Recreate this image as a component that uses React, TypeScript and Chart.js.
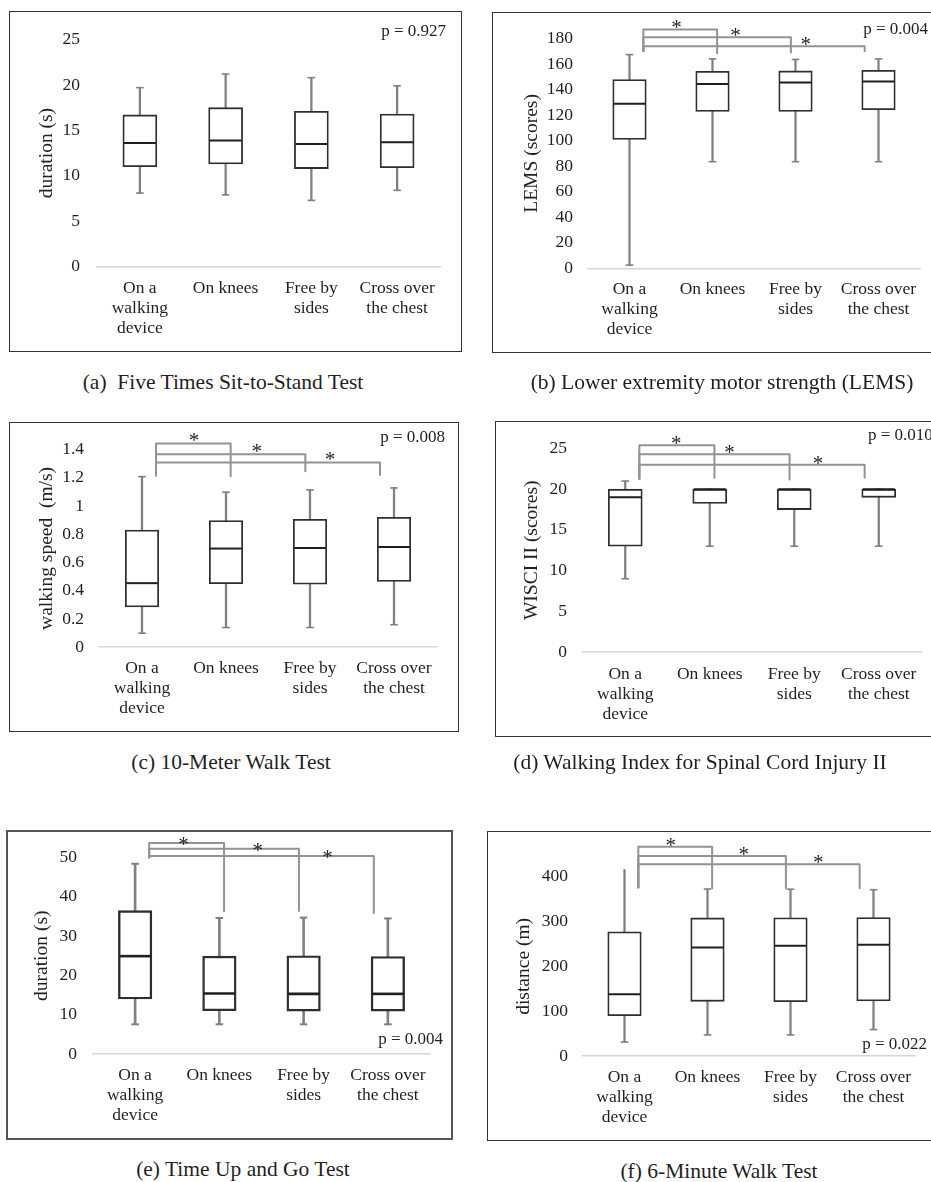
import React, { useEffect, useRef } from "react";
import { Chart, registerables } from "chart.js";

Chart.register(...registerables);

const FONT = "'Liberation Serif', 'Times New Roman', Times, serif";
const TEXT = "#1f1f1f";
const WHISKER = "#808080";
const BOXC = "#2e2e2e";
const MEDC = "#1f1f1f";
const BRACKET = "#939393";
const STAR_SIZE = 21;

// ---------- shared categories ----------
const categories = [["On a", "walking", "device"], ["On knees"], ["Free by", "sides"], ["Cross over", "the chest"]];
const bracketTargets = [1, 2, 3];

// ---------- (a) Five Times Sit-to-Stand Test ----------
const aMin = [8.1, 7.9, 7.3, 8.4];
const aQ1 = [11.0, 11.3, 10.8, 10.9];
const aMed = [13.6, 13.9, 13.5, 13.7];
const aQ3 = [16.7, 17.5, 17.1, 16.8];
const aMax = [19.7, 21.2, 20.8, 19.9];
const aTicks = [0, 5, 10, 15, 20, 25];

// ---------- (b) LEMS ----------
const bMin = [2.5, 83.5, 83.5, 83.5];
const bQ1 = [101, 122.8, 122.8, 124.3];
const bMed = [128.9, 144.3, 145.6, 146.4];
const bQ3 = [147.9, 154.3, 154.6, 155.1];
const bMax = [167.4, 164, 163.6, 164];
const bTicks = [0, 20, 40, 60, 80, 100, 120, 140, 160, 180];
const bBracketTop = [187, 181, 174];
const bBracketLeft = [169.5, 169.5, 169.5];
const bBracketRight = [168.5, 169, 170];
const bStarX = [0.45, 1.25, 2.2];

// ---------- (c) 10-Meter Walk Test ----------
const cMin = [0.1, 0.14, 0.14, 0.16];
const cQ1 = [0.286, 0.45, 0.447, 0.466];
const cMed = [0.454, 0.699, 0.703, 0.71];
const cQ3 = [0.83, 0.897, 0.906, 0.92];
const cMax = [1.208, 1.098, 1.114, 1.128];
const cTicks = [0, 0.2, 0.4, 0.6, 0.8, 1, 1.2, 1.4];
const cBracketTop = [1.442, 1.366, 1.308];
const cBracketLeft = [1.21, 1.21, 1.21];
const cBracketRight = [1.21, 1.246, 1.22];
const cStarX = [0.51, 1.35, 2.33];

// ---------- (d) WISCI II ----------
const dMin = [9, 13, 13, 13];
const dQ1 = [13, 18.25, 17.5, 19];
const dMed = [19, 20, 20, 20];
const dQ3 = [20, 20, 20, 20];
const dMax = [21, 20, 20, 20];
const dTicks = [0, 5, 10, 15, 20, 25];
const dBracketTop = [25.4, 24.3, 23.0];
const dBracketLeft = [21.2, 21.2, 21.2];
const dBracketRight = [21.4, 21.2, 21.4];
const dStarX = [0.49, 1.2, 2.38];

// ---------- (e) Time Up and Go Test ----------
const eMin = [7.55, 7.55, 7.55, 7.55];
const eQ1 = [14.0, 11.0, 10.9, 10.9];
const eMed = [24.9, 15.4, 15.3, 15.3];
const eQ3 = [36.5, 24.9, 25.0, 24.8];
const eMax = [48.4, 34.6, 34.7, 34.5];
const eTicks = [0, 10, 20, 30, 40, 50];
const eBracketTop = [53.7, 52.2, 50.4];
const eBracketLeft = [49.8, 49.8, 49.8];
const eBracketRight = [36.3, 36.4, 35.9];
const eStarX = [0.46, 1.45, 2.38];

// ---------- (f) 6-Minute Walk Test ----------
const fMin = [31, 47, 47, 59];
const fQ1 = [90, 122, 121, 123];
const fMed = [138, 242, 246, 248];
const fQ3 = [277, 308, 308.5, 309];
const fMax = [416, 372.5, 372, 371];
const fTicks = [0, 100, 200, 300, 400];
const fBracketTop = [467, 446, 428];
const fBracketLeft = [374, 374, 374];
const fBracketRight = [374, 374, 374];
const fStarX = [0.44, 1.43, 2.44];

type Brackets = { top: number[]; left: number[]; right: number[]; starX: number[] };
type PanelDef = {
  min: number[]; q1: number[]; med: number[]; q3: number[]; max: number[];
  ticks: number[]; yTitle: string; pText: string; caption: string;
  brackets?: Brackets;
  box: number[]; chart: number[]; titleX: number; xGap: number; tickPad: number;
  pX: number; pY: number; pAlign: "left" | "right"; cap: number[];
  boxW: number; boxBorder: number; medW: number; whiskerW: number;
  frameW: number; frameColor: string; starGap: number;
};

const panels: PanelDef[] = [
  {
    min: aMin, q1: aQ1, med: aMed, q3: aQ3, max: aMax, ticks: aTicks,
    yTitle: "duration (s)", pText: "p = 0.927", caption: "(a)  Five Times Sit-to-Stand Test",
    box: [10, 12, 461, 351], chart: [97, 33.3, 440, 266.7], titleX: 47, xGap: 21.6, tickPad: 17,
    pX: 446, pY: 32, pAlign: "right", cap: [223, 383],
    boxW: 34, boxBorder: 1.8, medW: 2, whiskerW: 1.6, frameW: 1.6, frameColor: "#333", starGap: 4,
  },
  {
    min: bMin, q1: bQ1, med: bMed, q3: bQ3, max: bMax, ticks: bTicks,
    yTitle: "LEMS (scores)", pText: "p = 0.004", caption: "(b) Lower extremity motor strength (LEMS)",
    brackets: { top: bBracketTop, left: bBracketLeft, right: bBracketRight, starX: bStarX },
    box: [493, 13, 945, 352], chart: [588, 34.3, 920, 268.3], titleX: 532, xGap: 21, tickPad: 15,
    pX: 928, pY: 30, pAlign: "right", cap: [722, 383],
    boxW: 33.5, boxBorder: 1.8, medW: 2, whiskerW: 1.6, frameW: 1.6, frameColor: "#333", starGap: 5,
  },
  {
    min: cMin, q1: cQ1, med: cMed, q3: cQ3, max: cMax, ticks: cTicks,
    yTitle: "walking speed  (m/s)", pText: "p = 0.008", caption: "(c) 10-Meter Walk Test",
    brackets: { top: cBracketTop, left: cBracketLeft, right: cBracketRight, starX: cStarX },
    box: [10, 423, 458, 731], chart: [100, 445, 436, 647.3], titleX: 47, xGap: 21, tickPad: 16,
    pX: 445, pY: 437.7, pAlign: "right", cap: [231, 763],
    boxW: 33.5, boxBorder: 1.8, medW: 2, whiskerW: 1.6, frameW: 1.6, frameColor: "#333", starGap: 6,
  },
  {
    min: dMin, q1: dQ1, med: dMed, q3: dQ3, max: dMax, ticks: dTicks,
    yTitle: "WISCI II (scores)", pText: "p = 0.010", caption: "(d) Walking Index for Spinal Cord Injury II",
    brackets: { top: dBracketTop, left: dBracketLeft, right: dBracketRight, starX: dStarX },
    box: [496, 422, 945, 736], chart: [583, 443.3, 921, 652], titleX: 532, xGap: 22, tickPad: 16,
    pX: 868, pY: 435.7, pAlign: "left", cap: [700, 763],
    boxW: 34, boxBorder: 1.8, medW: 2, whiskerW: 1.6, frameW: 1.6, frameColor: "#333", starGap: 5,
  },
  {
    min: eMin, q1: eQ1, med: eMed, q3: eQ3, max: eMax, ticks: eTicks,
    yTitle: "duration (s)", pText: "p = 0.004", caption: "(e) Time Up and Go Test",
    brackets: { top: eBracketTop, left: eBracketLeft, right: eBracketRight, starX: eStarX },
    box: [7, 831, 452, 1139], chart: [93, 851, 430, 1054], titleX: 42, xGap: 21, tickPad: 16,
    pX: 443, pY: 1039.3, pAlign: "right", cap: [243, 1170],
    boxW: 33.5, boxBorder: 2.4, medW: 2.6, whiskerW: 2, frameW: 2, frameColor: "#555", starGap: 2,
  },
  {
    min: fMin, q1: fQ1, med: fMed, q3: fQ3, max: fMax, ticks: fTicks,
    yTitle: "distance (m)", pText: "p = 0.022", caption: "(f) 6-Minute Walk Test",
    brackets: { top: fBracketTop, left: fBracketLeft, right: fBracketRight, starX: fStarX },
    box: [488, 832, 945, 1140], chart: [583, 876.7, 915, 1056], titleX: 524, xGap: 21.7, tickPad: 15,
    pX: 927, pY: 1045, pAlign: "right", cap: [719, 1172],
    boxW: 33.5, boxBorder: 1.8, medW: 2, whiskerW: 1.6, frameW: 1.6, frameColor: "#333", starGap: 5,
  },
];

function BoxPanel({ p }: { p: PanelDef }) {
  const ref = useRef<HTMLCanvasElement | null>(null);
  const [bl, bt, br, bb] = p.box;
  const W = br - bl;
  const H = bb - bt;

  useEffect(() => {
    if (!ref.current) return;
    const cl = p.chart[0] - bl;
    const ct = p.chart[1] - bt;
    const cr = p.chart[2] - bl;
    const cb = p.chart[3] - bt;
    const titleSize = 19.5;

    const datasets: any[] = [
      {
        type: "bar",
        data: p.min.map((v, i) => [v, p.max[i]]),
        backgroundColor: WHISKER,
        borderWidth: 0,
        barThickness: p.whiskerW,
        grouped: false,
        clip: false,
        order: 5,
      },
      {
        type: "bar",
        data: p.q1.map((v, i) => [v, p.q3[i]]),
        backgroundColor: "#ffffff",
        borderColor: BOXC,
        borderWidth: p.boxBorder,
        borderSkipped: false,
        barThickness: p.boxW,
        grouped: false,
        clip: false,
        order: 4,
      },
      {
        type: "line",
        data: p.min,
        showLine: false,
        pointStyle: "line",
        pointRadius: 3.8,
        pointBorderWidth: p.whiskerW,
        pointBorderColor: WHISKER,
        clip: false,
        order: 2,
      },
      {
        type: "line",
        data: p.max,
        showLine: false,
        pointStyle: "line",
        pointRadius: 3.8,
        pointBorderWidth: p.whiskerW,
        pointBorderColor: WHISKER,
        clip: false,
        order: 2,
      },
      {
        type: "line",
        data: p.med,
        showLine: false,
        pointStyle: "line",
        pointRadius: p.boxW / 2 - 1,
        pointBorderWidth: p.medW,
        pointBorderColor: MEDC,
        clip: false,
        order: 1,
      },
    ];

    if (p.brackets) {
      const bk = p.brackets;
      bracketTargets.forEach((j, k) => {
        datasets.push({
          type: "line",
          xAxisID: "x2",
          data: [
            { x: 0, y: bk.left[k] },
            { x: 0, y: bk.top[k] },
            { x: j, y: bk.top[k] },
            { x: j, y: bk.right[k] },
          ],
          borderColor: BRACKET,
          borderWidth: 2,
          borderJoinStyle: "round",
          pointRadius: 0,
          tension: 0,
          clip: false,
          order: 6,
        });
      });
    }

    const annot = {
      id: "annot",
      afterDatasetsDraw(chart: any) {
        const ctx = chart.ctx;
        const y = chart.scales.y;
        const x2 = chart.scales.x2;
        ctx.save();
        ctx.fillStyle = TEXT;
        if (p.brackets) {
          const bk = p.brackets;
          ctx.font = `${STAR_SIZE}px ${FONT}`;
          ctx.textAlign = "center";
          ctx.textBaseline = "alphabetic";
          bk.starX.forEach((sx, k) => {
            const px = x2.getPixelForValue(sx);
            const py = y.getPixelForValue(bk.top[k]) - p.starGap + 0.47 * STAR_SIZE;
            ctx.fillText("*", px, py);
          });
        }
        ctx.font = `17px ${FONT}`;
        ctx.textAlign = p.pAlign;
        ctx.textBaseline = "middle";
        ctx.fillText(p.pText, p.pX - bl, p.pY - bt);
        ctx.restore();
      },
    };

    const chart = new Chart(ref.current, {
      type: "bar",
      data: { labels: categories as any, datasets },
      plugins: [annot],
      options: {
        animation: false,
        responsive: false,
        events: [],
        layout: { padding: { left: 0, top: ct, right: W - cr, bottom: 0 } },
        plugins: { legend: { display: false }, tooltip: { enabled: false }, title: { display: false } },
        scales: {
          x: {
            type: "category",
            offset: true,
            grid: { display: false, drawTicks: false },
            border: { display: true, color: "#d6d6d6", width: 1.6 },
            ticks: {
              autoSkip: false,
              maxRotation: 0,
              minRotation: 0,
              padding: p.xGap - 10,
              color: TEXT,
              font: { family: FONT, size: 17.5, lineHeight: 20 / 17.5 },
            },
            afterFit: (s: any) => {
              s.height = H - cb;
            },
          },
          x2: {
            type: "linear",
            display: false,
            min: -0.5,
            max: 3.5,
          },
          y: {
            type: "linear",
            min: p.ticks[0],
            max: p.ticks[p.ticks.length - 1],
            grid: { display: false, drawTicks: false },
            border: { display: false },
            afterBuildTicks: (s: any) => {
              s.ticks = p.ticks.map((v) => ({ value: v }));
            },
            ticks: {
              padding: p.tickPad,
              color: TEXT,
              font: { family: FONT, size: 17.5 },
              callback: (v: any) => String(v),
            },
            title: {
              display: true,
              text: p.yTitle,
              color: TEXT,
              font: { family: FONT, size: titleSize, lineHeight: 1 },
              padding: { top: p.titleX - bl - titleSize / 2, bottom: 0 },
            },
            afterFit: (s: any) => {
              s.width = cl;
            },
          },
        },
      } as any,
    });
    return () => chart.destroy();
  }, []);

  return (
    <>
      <canvas
        ref={ref}
        width={W}
        height={H}
        style={{ position: "absolute", left: bl, top: bt, width: W, height: H }}
      />
      <div
        style={{
          position: "absolute",
          left: bl - p.frameW / 2,
          top: bt - p.frameW / 2,
          width: W + p.frameW,
          height: H + p.frameW,
          border: `${p.frameW}px solid ${p.frameColor}`,
          boxSizing: "border-box",
          pointerEvents: "none",
        }}
      />
      <div
        style={{
          position: "absolute",
          left: p.cap[0],
          top: p.cap[1] - 10.75,
          transform: "translateX(-50%)",
          fontFamily: FONT,
          fontSize: 21.5,
          lineHeight: 1,
          color: TEXT,
          whiteSpace: "pre",
        }}
      >
        {p.caption}
      </div>
    </>
  );
}

export default function App() {
  return (
    <div
      style={{
        position: "absolute",
        left: 0,
        top: 0,
        width: 931,
        height: 1182,
        overflow: "hidden",
        background: "#ffffff",
      }}
    >
      {panels.map((p, i) => (
        <BoxPanel key={i} p={p} />
      ))}
    </div>
  );
}
